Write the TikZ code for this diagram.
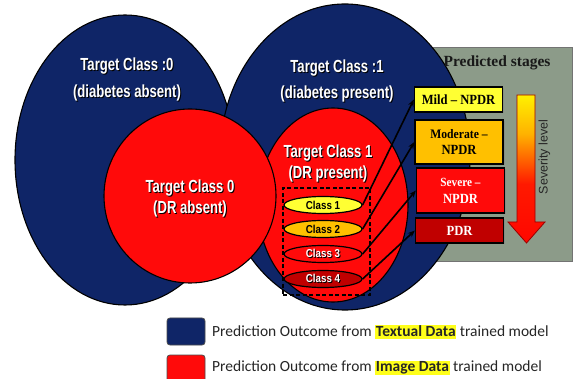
\documentclass[tikz,border=0pt]{standalone}
\usepackage{fontspec}
\setmainfont{Liberation Serif}
\newfontfamily\narrowbf[FakeStretch=0.75]{Liberation Sans}
\newfontfamily\classfont[FakeStretch=0.85]{Liberation Sans}
\newfontfamily\boxfont[FakeStretch=0.9]{Liberation Serif}
\newfontfamily\legendfont{Carlito}
\newfontfamily\sevfont{Liberation Sans}
\usetikzlibrary{arrows.meta,shapes.geometric,shadows}
\definecolor{navy}{HTML}{0F2567}
\definecolor{rred}{HTML}{FF0A0A}
\definecolor{dred}{HTML}{C00000}
\definecolor{yel}{HTML}{FFFF33}
\definecolor{org}{HTML}{FFC000}
\definecolor{panelc}{HTML}{8C9B89}
\definecolor{hly}{HTML}{FFFF1A}
\newcommand\sh[1]{\leavevmode\rlap{\kern1pt\raisebox{-1pt}{\color{black}#1}}#1}
\newcommand\hlt[1]{{\setlength\fboxsep{0.6pt}\colorbox{hly}{\vphantom{Agy}#1}}}
\pgfdeclareverticalshading{sevshade}{100bp}{color(0bp)=(dred); color(18bp)=(red); color(45bp)=(red!80!orange); color(62bp)=(orange!60!yellow); color(78bp)=(yellow); color(100bp)=(yellow)}
\tikzset{
  bigell/.style={ellipse, draw=black, line width=1.1pt, inner sep=0pt},
  bigtext/.style={text=white, align=center, font=\narrowbf\bfseries\fontsize{17.5}{21}\selectfont},
  classell/.style={ellipse, draw=black, line width=1.2pt, inner sep=0pt, minimum width=78pt, minimum height=17pt, font=\classfont\bfseries\fontsize{11.5}{11.5}\selectfont},
  stagebox/.style={rectangle, draw=black, line width=1.3pt, inner sep=0pt, minimum width=88pt, align=center, font=\boxfont\bfseries\fontsize{14}{15}\selectfont, drop shadow={shadow xshift=1.5pt, shadow yshift=-1.5pt, opacity=0.5}},
  conn/.style={-{Stealth[length=7pt,width=5.5pt]}, line width=1.6pt, black},
  legsq/.style={rectangle, rounded corners=3pt, draw=black!70, line width=0.8pt, minimum width=38pt, minimum height=27pt, inner sep=0pt},
  legtext/.style={anchor=west, text=black!85, font=\legendfont\fontsize{15.5}{15.5}\selectfont, inner sep=0pt}
}
\begin{document}
\begin{tikzpicture}[x=1pt,y=-1pt]
\clip (0,0) rectangle (573,379);
\fill[white] (0,0) rectangle (573,379);
% panel
\draw[fill=panelc, draw=black!55, line width=1pt] (400,48) rectangle (572.5,262);
% big ellipses
\node[bigell, fill=navy, minimum width=220pt, minimum height=290pt] (tc0) at (125,160) {};
\node[bigell, fill=navy, minimum width=250pt, minimum height=306pt] (tc1) at (345,157) {};
\node[bigell, fill=rred, minimum width=150pt, minimum height=194pt] (dr1) at (333,205) {};
\node[bigell, fill=rred, minimum width=172pt, minimum height=174pt] (dr0) at (190,196) {};
% dashed box
\node[draw=black, dash pattern=on 4pt off 2.5pt, line width=1.3pt, minimum width=87pt, minimum height=107pt, inner sep=0pt] (dbox) at (326.5,241.5) {};
% class ellipses
\node[classell, fill=yel] (c1) at (323,205) {Class 1};
\node[classell, fill=org] (c2) at (323,229) {Class 2};
\node[classell, fill=rred, text=white] (c3) at (323,254) {\sh{Class 3}};
\node[classell, fill=dred, text=white] (c4) at (323,279) {\sh{Class 4}};
% stage boxes
\node[stagebox, fill=yel, minimum height=25pt] (mild) at (458.5,99.5) {Mild – NPDR};
\node[stagebox, fill=org, minimum height=44pt] (mod) at (459,142) {{\fontsize{13}{13}\selectfont Moderate –}\\[1pt]NPDR};
\node[stagebox, fill=rred, text=white, minimum height=45pt] (sev) at (460.5,190.5) {{\fontsize{12.5}{13}\selectfont Severe –}\\[2pt]NPDR};
\node[stagebox, fill=dred, text=white, minimum height=25pt] (pdr) at (459.5,230.5) {PDR};
% arrows
\draw[conn] (c1.east) -- (mild.west);
\draw[conn] (c2.east) -- (mod.west);
\draw[conn] (c3.east) -- (sev.west);
\draw[conn] (c4.east) -- (pdr.west);
% severity arrow
\shade[shading=sevshade, draw=dred!80!black, line width=0.8pt] (517,95) -- (535,95) -- (535,222) -- (545,222) -- (526.5,243) -- (508,222) -- (517,222) -- cycle;
\node[rotate=90, text=black!85, font=\sevfont\fontsize{12.5}{12.5}\selectfont] (sevlab) at (544.5,157) {Severity level};
% texts
\node[font=\bfseries\fontsize{15.5}{16}\selectfont, text=black!90] (pstages) at (497,63) {Predicted stages};
\node[bigtext] (t0) at (127,80) {\sh{Target Class :0}\\[6pt]\sh{(diabetes absent)}};
\node[bigtext] (t1) at (337,81) {\sh{Target Class :1}\\[5pt]\sh{(diabetes present)}};
\node[bigtext] (d0) at (190,198.5) {\sh{Target Class 0}\\\sh{(DR absent)}};
\node[bigtext] (d1) at (328,164) {\sh{Target Class 1}\\\sh{(DR present)}};
% legend
\node[legsq, fill=navy] (lb) at (186,331.5) {};
\node[legsq, fill=rred] (lr) at (186,368.5) {};
\node[legtext] (lt1) at (212,332) {Prediction Outcome from \hlt{\textbf{Textual Data}} trained model};
\node[legtext] (lt2) at (212,368) {Prediction Outcome from \hlt{\textbf{Image Data}} trained model};
\end{tikzpicture}
\end{document}
